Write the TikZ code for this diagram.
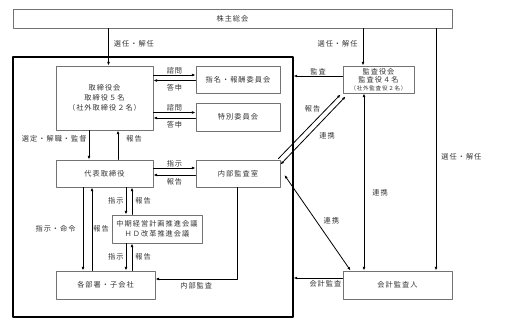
\documentclass[tikz,border=0pt]{standalone}
\usepackage{fontspec}
\setmainfont{Noto Sans CJK JP}[LetterSpace=14]
\usetikzlibrary{arrows.meta}

\begin{document}
\begin{tikzpicture}[x=1pt, y=-1pt, line cap=round, line join=round,
  box/.style={draw=black!55, line width=0.9pt, inner sep=0pt, align=center,
    text=black!80, font=\fontsize{7.2}{10}\selectfont},
  waku/.style={draw=black, line width=1.2pt, inner sep=0pt},
  arr/.style={line width=0.8pt, -{Latex[length=3.6pt,width=2.8pt]}},
  biarr/.style={line width=0.8pt, {Latex[length=3.6pt,width=2.8pt]}-{Latex[length=3.6pt,width=2.8pt]}},
  lbl/.style={font=\fontsize{7.2}{9}\selectfont, text=black!80, inner sep=2pt}]

  %% ════ 枠・箱 ════
  \node[waku, minimum width=280pt, minimum height=260pt] (waku) at (153,187) {};
  \node[box, minimum width=439pt, minimum height=19pt] (kabunushi) at (232.5,18.5) {株主総会};
  \node[box, minimum width=97pt, minimum height=64pt] (torikai) at (104.5,98) {取締役会\\取締役５名\\（社外取締役２名）};
  \node[box, minimum width=84pt, minimum height=27pt] (shimei) at (238,79.5) {指名・報酬委員会};
  \node[box, minimum width=84pt, minimum height=28pt] (tokubetsu) at (238,117) {特別委員会};
  \node[box, minimum width=97pt, minimum height=27pt] (daihyo) at (104.5,173.5) {代表取締役};
  \node[box, minimum width=84pt, minimum height=27pt] (naibu) at (238,173.5) {内部監査室};
  \node[box, minimum width=90pt, minimum height=28pt] (chuki) at (157,229) {中期経営計画推進会議\\ＨＤ改革推進会議};
  \node[box, minimum width=99pt, minimum height=28pt] (busho) at (105.5,285) {各部署・子会社};
  \node[box, minimum width=71pt, minimum height=27pt] (kansa) at (378.5,79.5)
    {監査役会\\[-2pt]監査役４名\\[-2pt]{\fontsize{5.5}{7}\selectfont（社外監査役２名）}};
  \node[box, minimum width=109pt, minimum height=28pt] (kaikei) at (397.5,285) {会計監査人};

  %% ════ 株主総会から ════
  \draw[arr] ([xshift=4pt]torikai.north |- kabunushi.south) -- node[lbl, right, pos=0.4, xshift=3pt] (l-sennin1) {選任・解任} ([xshift=4pt]torikai.north);
  \draw[arr] ([xshift=-15.5pt]kansa.north |- kabunushi.south) -- node[lbl, left, pos=0.4, xshift=-3pt] (l-sennin2) {選任・解任} ([xshift=-15.5pt]kansa.north);
  \draw[arr] ([xshift=38.5pt]kaikei.north |- kabunushi.south) -- node[lbl, right, pos=0.53, xshift=3pt] (l-sennin3) {選任・解任} ([xshift=38.5pt]kaikei.north);

  %% ════ 取締役会と委員会 ════
  \draw[arr] ([yshift=4.5pt]shimei.west -| torikai.east) -- node[lbl, above, inner sep=1pt] (l-shimon1) {諮問} ([yshift=4.5pt]shimei.west);
  \draw[arr] ([yshift=-1pt]shimei.west) -- node[lbl, below, yshift=-1pt] (l-toshin1) {答申} ([yshift=-1pt]shimei.west -| torikai.east);
  \draw[arr] ([yshift=4.5pt]tokubetsu.west -| torikai.east) -- node[lbl, above, inner sep=1pt] (l-shimon2) {諮問} ([yshift=4.5pt]tokubetsu.west);
  \draw[arr] ([yshift=-1pt]tokubetsu.west) -- node[lbl, below, yshift=-1pt] (l-toshin2) {答申} ([yshift=-1pt]tokubetsu.west -| torikai.east);

  %% ════ 取締役会と代表取締役 ════
  \draw[arr] ([xshift=-15.5pt]torikai.south) -- node[lbl, left, pos=0.3] (l-sentei) {選定・解職・監督} ([xshift=-15.5pt]daihyo.north);
  \draw[arr] ([xshift=13.5pt]daihyo.north) -- node[lbl, right, pos=0.7, xshift=6pt] (l-hokoku1) {報告} ([xshift=13.5pt]torikai.south);

  %% ════ 代表取締役と内部監査室 ════
  \draw[arr] ([yshift=5.5pt]daihyo.east) -- node[lbl, above, inner sep=1pt] (l-shiji1) {指示} ([yshift=5.5pt]daihyo.east -| naibu.west);
  \draw[arr] ([yshift=-1.5pt]naibu.west) -- node[lbl, below, yshift=-1pt] (l-hokoku2) {報告} ([yshift=-1.5pt]naibu.west -| daihyo.east);

  %% ════ 会議体 ════
  \draw[arr] ([xshift=-31pt]chuki.north |- daihyo.south) -- node[lbl, left] (l-shiji2) {指示} ([xshift=-31pt]chuki.north);
  \draw[arr] ([xshift=-25pt]chuki.north) -- node[lbl, right, xshift=1pt] (l-hokoku3) {報告} ([xshift=-25pt]chuki.north |- daihyo.south);
  \draw[arr] ([xshift=-31pt]chuki.south) -- node[lbl, left] (l-shiji3) {指示} ([xshift=-31pt]chuki.south |- busho.north);
  \draw[arr] ([xshift=-25pt]chuki.south |- busho.north) -- node[lbl, right, xshift=1pt] (l-hokoku4) {報告} ([xshift=-25pt]chuki.south);

  %% ════ 代表取締役と各部署 ════
  \draw[arr] ([xshift=-22.5pt]busho.north |- daihyo.south) -- node[lbl, left, xshift=-5pt] (l-meirei) {指示・命令} ([xshift=-22.5pt]busho.north);
  \draw[arr] ([xshift=-13.5pt]busho.north) -- node[lbl, right, inner sep=1pt] (l-hokoku5) {報告} ([xshift=-13.5pt]busho.north |- daihyo.south);
  \draw[arr] ([xshift=-1pt]naibu.south) |- node[lbl, below, pos=0.75, yshift=-1pt] (l-naibukansa) {内部監査} ([yshift=6pt]busho.east);

  %% ════ 監査役会・会計監査人 ════
  \draw[arr] ([yshift=3.5pt]kansa.west) -- node[lbl, above, inner sep=1pt] (l-kansa) {監査} ([yshift=3.5pt]kansa.west -| waku.east);
  \draw[arr] ([xshift=-2pt,yshift=1pt]naibu.north east) -- node[lbl, above left, pos=0.68, xshift=2pt] (l-hokoku6) {報告} ([xshift=-2pt,yshift=-1pt]kansa.south west);
  \draw[biarr] ([yshift=-5pt]naibu.north east) -- node[lbl, below right, pos=0.5, xshift=4pt] (l-renkei1) {連携} ([xshift=3pt,yshift=-3pt]kansa.south west);
  \draw[biarr] ([xshift=-14.5pt]kansa.south) -- node[lbl, right, pos=0.56, xshift=6pt] (l-renkei2) {連携} ([xshift=-14.5pt]kansa.south |- kaikei.north);
  \draw[biarr] ([xshift=4pt,yshift=-1.5pt]naibu.east) -- node[lbl, right, pos=0.48, xshift=5pt] (l-renkei3) {連携} ([xshift=8pt]kaikei.north west);
  \draw[arr] ([yshift=7pt]kaikei.west) -- node[lbl, below, pos=0.35] (l-kaikei) {会計監査} ([yshift=7pt]kaikei.west -| waku.east);

  \pgfresetboundingbox
  \path[use as bounding box] (0,0) rectangle (506,328);
\end{tikzpicture}
\end{document}
